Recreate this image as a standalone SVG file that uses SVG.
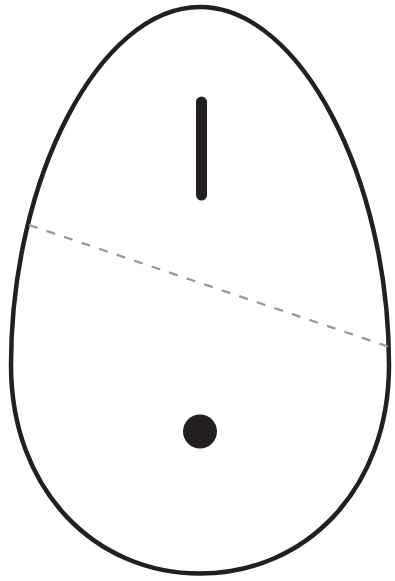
<svg xmlns="http://www.w3.org/2000/svg" width="395" height="581" viewBox="0 0 395 581">
<style>
.outline{fill:#fff;stroke:#231f20;stroke-width:4.5}
.axis{fill:none;stroke:#999;stroke-width:2.3;stroke-dasharray:9 9.5}
.mark{fill:#231f20}
</style>
<rect width="395" height="581" fill="#fff"/>
<g id="egg">
<path class="outline" d="M200,7 C300,7 389,178 389,365 C389,490 305,573.5 200,573.5 C95,573.5 11,490 11,365 C11,178 100,7 200,7 Z"/>
</g>
<g id="connectors">
<line class="axis" x1="29" y1="225" x2="388" y2="346.5"/>
</g>
<g id="bar">
<line x1="201.5" y1="102" x2="201.5" y2="195" stroke="#231f20" stroke-width="11" stroke-linecap="round"/>
</g>
<g id="dot">
<circle class="mark" cx="200" cy="431.5" r="17"/>
</g>
</svg>
